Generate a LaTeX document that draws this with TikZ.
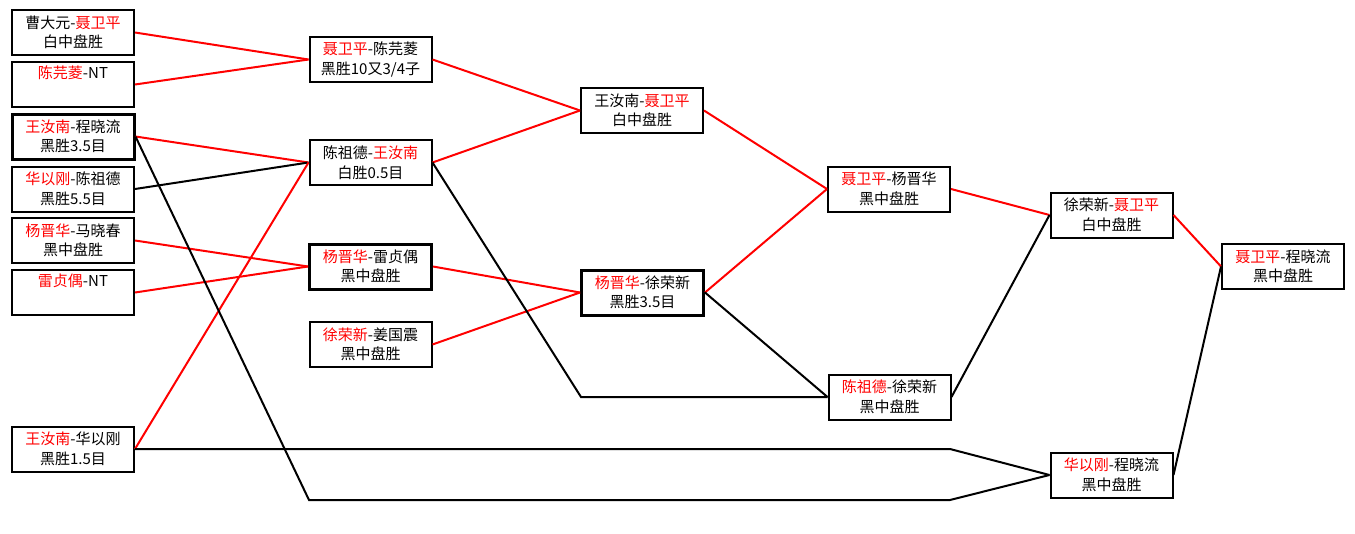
\documentclass[tikz,border=0pt]{standalone}
\usepackage{fontspec}
\setmainfont{Noto Sans CJK SC}
\usepackage{tikz}
\newcommand{\rd}[1]{\textcolor{red}{#1}}

\begin{document}
\begin{tikzpicture}[x=1pt, y=-1pt,
    box/.style={draw, rectangle, fill=white, line width=2pt, minimum width=122pt, minimum height=45pt, inner sep=0pt, align=center, font=\fontsize{15}{19.5}\selectfont},
    thickbox/.style={box, line width=3pt},
    win/.style={draw=red, line width=2pt},
    lose/.style={draw=black, line width=2pt}]
    \useasboundingbox (0,0) rectangle (1355,533);
    % first round
    \node[box](a1)at (73,32.5){曹大元-\rd{聂卫平}\\白中盘胜};
    \node[box](a2)at (73,84.5){\rd{陈芫菱}-NT\\\strut};
    \node[thickbox](a3)at (73,136.5){\rd{王汝南}-程晓流\\黑胜3.5目};
    \node[box](a4)at (73,189){\rd{华以刚}-陈祖德\\黑胜5.5目};
    \node[box](a5)at (73,240.5){\rd{杨晋华}-马晓春\\黑中盘胜};
    \node[box](a6)at (73,292.5){\rd{雷贞偶}-NT\\\strut};
    \node[box](a7)at (73,449){\rd{王汝南}-华以刚\\黑胜1.5目};
    % second round
    \node[box](b1)at (370.5,59.5){\rd{聂卫平}-陈芫菱\\黑胜10又3/4子};
    \node[box](b2)at (370.5,162.5){陈祖德-\rd{王汝南}\\白胜0.5目};
    \node[thickbox](b3)at (370.5,266.5){\rd{杨晋华}-雷贞偶\\黑中盘胜};
    \node[box](b4)at (370.5,344.5){\rd{徐荣新}-姜国震\\黑中盘胜};
    % third round
    \node[box](c1)at (642,110.5){王汝南-\rd{聂卫平}\\白中盘胜};
    \node[thickbox](c2)at (642.5,292.5){\rd{杨晋华}-徐荣新\\黑胜3.5目};
    % fourth round
    \node[box](d1)at (889,189){\rd{聂卫平}-杨晋华\\黑中盘胜};
    \node[box](d2)at (889.5,397){\rd{陈祖德}-徐荣新\\黑中盘胜};
    % fifth round
    \node[box](e1)at (1111.5,215){徐荣新-\rd{聂卫平}\\白中盘胜};
    \node[box](e2)at (1111.5,475){\rd{华以刚}-程晓流\\黑中盘胜};
    % final
    \node[box](f)at (1283,266.5){\rd{聂卫平}-程晓流\\黑中盘胜};
    % bends
    \coordinate (k1) at (309,500);
    \coordinate (k2) at (950,500);
    \coordinate (k3) at (950,449);
    \coordinate (k4) at (581,397);
    \draw[win](a1.east)--(b1.west);
    \draw[win](a2.east)--(b1.west);
    \draw[win](a3.east)--(b2.west);
    \draw[lose](a4.east)--(b2.west);
    \draw[win](a5.east)--(b3.west);
    \draw[win](a6.east)--(b3.west);
    \draw[win](a7.east)--(b2.west);
    \draw[lose](a3.east)--(k1)--(k2)--(e2.west);
    \draw[lose](a7.east)--(k3)--(e2.west);
    \draw[win](b1.east)--(c1.west);
    \draw[win](b2.east)--(c1.west);
    \draw[win](b3.east)--(c2.west);
    \draw[win](b4.east)--(c2.west);
    \draw[lose](b2.east)--(k4)--(d2.west);
    \draw[win](c1.east)--(d1.west);
    \draw[win](c2.east)--(d1.west);
    \draw[lose](c2.east)--(d2.west);
    \draw[win](d1.east)--(e1.west);
    \draw[lose](d2.east)--(e1.west);
    \draw[win](e1.east)--(f.west);
    \draw[lose](e2.east)--(f.west);
\end{tikzpicture}
\end{document}
